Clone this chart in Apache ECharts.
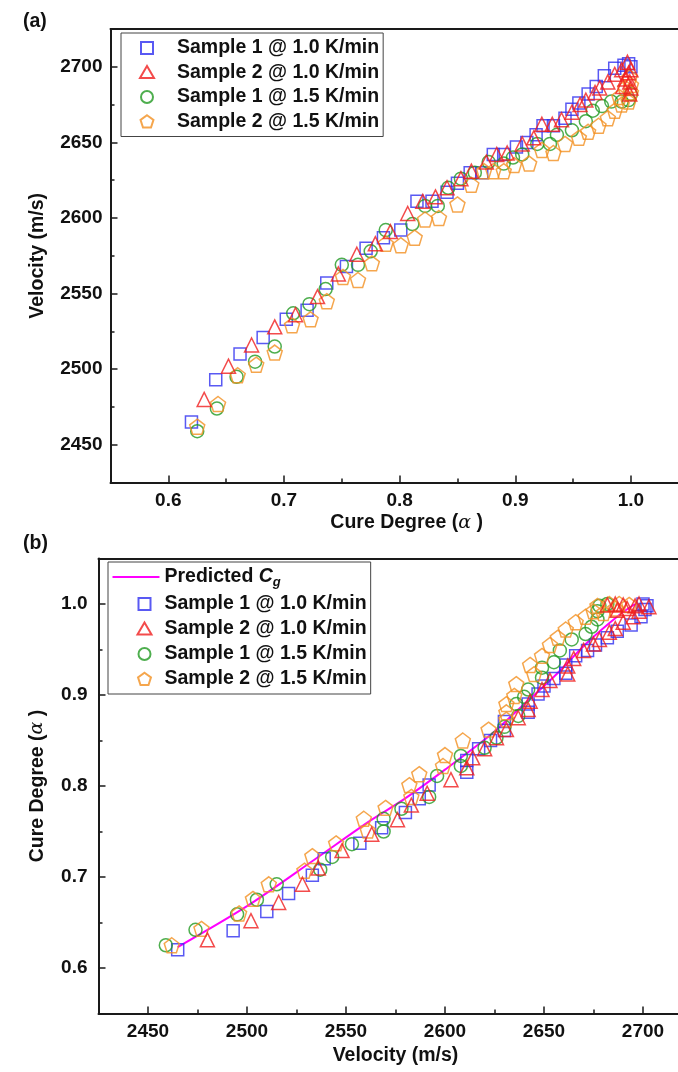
<!DOCTYPE html>
<html>
<head>
<meta charset="UTF-8">
<title>Velocity vs cure degree</title>
<script src="https://cdn.jsdelivr.net/npm/echarts@6/dist/echarts.min.js"></script>
<style>
  html, body { margin: 0; padding: 0; background: #fff; }
  #chart { width: 678px; height: 1072px; }
</style>
</head>
<body>
<div id="chart"></div>
<script>
// series names, legend order
var sampleNames = ['Sample 1 @ 1.0 K/min', 'Sample 2 @ 1.0 K/min', 'Sample 1 @ 1.5 K/min', 'Sample 2 @ 1.5 K/min'];
var lineName = 'Predicted Cg';

// [cure degree, velocity (m/s)]
var s1Rate10 = [[0.620,2465],[0.641,2493],[0.662,2510],[0.682,2521],[0.702,2533],[0.720,2539],[0.737,2557],[0.754,2568],
  [0.771,2580],[0.786,2587],[0.801,2592],[0.815,2611],[0.828,2611],[0.841,2617],[0.850,2623],[0.861,2630],[0.871,2630],
  [0.881,2642],[0.890,2642],[0.901,2647],[0.910,2650],[0.918,2655],[0.924,2661],[0.933,2661],[0.943,2666],[0.949,2672],
  [0.955,2676],[0.963,2682],[0.970,2687],[0.977,2694],[0.986,2699],[0.994,2701],[0.998,2702],[1.000,2700]];
var s2Rate10 = [[0.631,2480],[0.652,2502],[0.672,2516],[0.692,2528],[0.710,2536],[0.729,2548],[0.747,2563],[0.763,2576],
  [0.779,2583],[0.792,2591],[0.807,2603],[0.820,2611],[0.831,2614],[0.841,2620],[0.853,2626],[0.862,2631],[0.875,2637],
  [0.884,2642],[0.893,2643],[0.906,2649],[0.916,2653],[0.923,2662],[0.932,2662],[0.940,2665],[0.949,2670],[0.956,2675],
  [0.961,2678],[0.969,2683],[0.973,2686],[0.980,2690],[0.986,2695],[0.992,2698],[0.997,2703],[0.998,2696],[0.999,2690],
  [1.000,2686],[0.995,2692],[1.000,2698],[0.993,2687],[0.999,2682]];
var s1Rate15 = [[0.625,2459],[0.642,2474],[0.659,2495],[0.675,2505],[0.692,2515],[0.708,2537],[0.722,2543],[0.736,2553],
  [0.750,2569],[0.764,2569],[0.775,2578],[0.788,2592],[0.811,2596],[0.822,2608],[0.833,2608],[0.842,2620],[0.853,2626],
  [0.865,2630],[0.877,2637],[0.890,2636],[0.898,2640],[0.906,2642],[0.919,2649],[0.930,2649],[0.936,2655],[0.949,2658],
  [0.961,2664],[0.967,2671],[0.975,2674],[0.983,2677],[0.992,2677],[0.998,2678],[1.000,2682]];
var s2Rate15 = [[0.625,2462],[0.643,2477],[0.660,2496],[0.676,2503],[0.692,2511],[0.707,2529],[0.723,2533],[0.737,2545],
  [0.751,2561],[0.764,2559],[0.776,2570],[0.788,2583],[0.801,2582],[0.813,2587],[0.822,2599],[0.834,2600],[0.850,2609],
  [0.862,2622],[0.873,2631],[0.881,2631],[0.890,2631],[0.899,2635],[0.912,2636],[0.923,2645],[0.933,2643],[0.943,2649],
  [0.955,2653],[0.963,2657],[0.972,2661],[0.980,2666],[0.986,2671],[0.992,2675],[0.998,2677],[1.000,2683],[1.000,2688],
  [0.999,2693],[0.995,2686],[0.990,2680]];

// predicted curve, [velocity, cure degree]
var predicted = [[2465,0.623],[2500,0.668],[2534,0.719],[2563,0.763],[2579,0.785],[2600,0.818],[2624,0.858],
  [2638,0.886],[2655,0.920],[2672,0.958],[2688,0.988],[2696,1.000]];

var velocityTicks = [2450, 2500, 2550, 2600, 2650, 2700];
var cureTicks = [0.6, 0.7, 0.8, 0.9, 1.0];
var velocityRange = [2425, 2725];
var cureRange = [0.55, 1.05];

var colors = ['#2f2ff0', '#f01e1e', '#229a22', '#f39020'];
var shapes = ['rect', 'triangle', 'circle', 'pentagon'];
var sizes = [12, 14, 13, 15];
var allData = [s1Rate10, s2Rate10, s1Rate15, s2Rate15];

var ink = '#1a1a1a';
var font = 'Liberation Sans';

function velLabel(v) { return velocityTicks.indexOf(v) >= 0 ? String(v) : ''; }
function cureLabel(v) {
  for (var i = 0; i < cureTicks.length; i++) {
    if (Math.abs(cureTicks[i] - v) < 1e-6) return cureTicks[i].toFixed(1);
  }
  return '';
}

// pentagon as a symbol path
var pentagonPath = 'path://M0,-1 L0.951,-0.309 L0.588,0.809 L-0.588,0.809 L-0.951,-0.309 Z';
function seriesSymbol(kind) { return kind === 'pentagon' ? pentagonPath : kind; }

// legend icon: shape drawn inside a w x h box (the two lone moves keep the box size)
function legendIcon(kind, w, h, cx) {
  var cy = h / 2, p = [];
  var s = 'path://M0,0 M' + w + ',' + h + ' ';
  if (kind === 'rect') {
    s += 'M' + (cx - 6) + ',' + (cy - 6) + ' L' + (cx + 6) + ',' + (cy - 6) + ' L' + (cx + 6) + ',' + (cy + 6) +
      ' L' + (cx - 6) + ',' + (cy + 6) + ' Z';
  } else if (kind === 'triangle') {
    s += 'M' + cx + ',' + (cy - 6.5) + ' L' + (cx + 7) + ',' + (cy + 5.5) + ' L' + (cx - 7) + ',' + (cy + 5.5) + ' Z';
  } else if (kind === 'circle') {
    s += 'M' + (cx - 6) + ',' + cy + ' A6,6 0 1,0 ' + (cx + 6) + ',' + cy + ' A6,6 0 1,0 ' + (cx - 6) + ',' + cy + ' Z';
  } else if (kind === 'pentagon') {
    for (var k = 0; k < 5; k++) {
      var a = (-90 + k * 72) * Math.PI / 180;
      p.push((k ? 'L' : 'M') + (cx + 6.8 * Math.cos(a)).toFixed(2) + ',' + (cy + 0.5 + 6.8 * Math.sin(a)).toFixed(2));
    }
    s += p.join(' ') + ' Z';
  } else {
    s += 'M0,' + (cy - 1) + ' L' + w + ',' + (cy - 1) + ' L' + w + ',' + (cy + 1) + ' L0,' + (cy + 1) + ' Z';
  }
  return s;
}

function valueAxis(grid, range, fmt, margin, extra) {
  var ax = {
    type: 'value', gridIndex: grid, min: range[0], max: range[1], splitNumber: 5,
    axisLine: { show: true, onZero: false, lineStyle: { color: ink, width: 2 } },
    axisTick: { show: true, inside: true, length: 7, lineStyle: { color: ink, width: 1.5 } },
    minorTick: { show: true, splitNumber: 2, length: 4, lineStyle: { color: ink, width: 1.5 } },
    splitLine: { show: false },
    axisLabel: { fontFamily: font, fontSize: 19, fontWeight: 'bold', color: '#111', margin: margin, formatter: fmt },
    nameTextStyle: { fontFamily: font, fontSize: 19.5, fontWeight: 'bold', color: '#111' }
  };
  for (var k in extra) ax[k] = extra[k];
  return ax;
}
function frameAxis(grid, range) {
  return {
    type: 'value', gridIndex: grid, position: 'top', min: range[0], max: range[1],
    axisLine: { show: true, onZero: false, lineStyle: { color: ink, width: 2 } },
    axisTick: { show: false }, axisLabel: { show: false }, splitLine: { show: false }
  };
}

var alphaRich = {
  t: { fontFamily: font, fontSize: 19.5, fontWeight: 'bold', color: '#111' },
  g: { fontFamily: 'DejaVu Serif', fontSize: 19, fontStyle: 'italic', color: '#111' }
};

var series = [];
var order = [0, 2, 3, 1];
order.forEach(function (i) {
  series.push({
    name: sampleNames[i], type: 'scatter', xAxisIndex: 0, yAxisIndex: 0,
    symbol: seriesSymbol(shapes[i]), symbolSize: sizes[i],
    itemStyle: { color: 'rgba(0,0,0,0)', borderColor: colors[i], borderWidth: 1.5 },
    data: allData[i]
  });
});
series.push({
  name: lineName, type: 'line', xAxisIndex: 2, yAxisIndex: 1, symbol: 'none', smooth: 0.3,
  lineStyle: { color: '#ff00ff', width: 2 }, itemStyle: { color: '#ff00ff' }, data: predicted, z: 1
});
order.forEach(function (i) {
  series.push({
    name: sampleNames[i], type: 'scatter', xAxisIndex: 2, yAxisIndex: 1,
    symbol: seriesSymbol(shapes[i]), symbolSize: sizes[i],
    itemStyle: { color: 'rgba(0,0,0,0)', borderColor: colors[i], borderWidth: 1.5 },
    data: allData[i].map(function (p) { return [p[1], p[0]]; })
  });
});

var legendText = {
  fontFamily: font, fontSize: 19.5, fontWeight: 'bold', color: '#111', lineHeight: 20,
  rich: {
    t: { fontFamily: font, fontSize: 19.5, fontWeight: 'bold', color: '#111' },
    i: { fontFamily: font, fontSize: 19.5, fontWeight: 'bold', fontStyle: 'italic', color: '#111' },
    s: { fontFamily: font, fontSize: 13, fontWeight: 'bold', fontStyle: 'italic', color: '#111', padding: [11, 0, 0, 0] }
  }
};

var topLegendData = sampleNames.map(function (n, i) {
  return { name: n, icon: legendIcon(shapes[i], 50, 14, 25) };
});
var bottomLegendData = [{ name: lineName, icon: legendIcon('line', 47, 14, 0) }].concat(
  sampleNames.map(function (n, i) { return { name: n, icon: legendIcon(shapes[i], 47, 14, 32) }; })
);

var option = {
  animation: false,
  backgroundColor: '#fff',
  title: [
    { text: '(a)', left: 18, top: 7, textStyle: { fontFamily: font, fontSize: 19.5, fontWeight: 'bold', color: '#111' } },
    { text: '(b)', left: 18, top: 529, textStyle: { fontFamily: font, fontSize: 19.5, fontWeight: 'bold', color: '#111' } }
  ],
  grid: [
    { left: 110.5, top: 29, width: 578.25, height: 453.6, containLabel: false, outerBoundsMode: 'none' },
    { left: 98.5, top: 558.5, width: 594, height: 455, containLabel: false, outerBoundsMode: 'none' }
  ],
  xAxis: [
    valueAxis(0, cureRange, cureLabel, 9, {
      position: 'bottom', name: '{t|Cure Degree (}{g|α}{t| )}', nameLocation: 'middle', nameGap: 30,
      nameTextStyle: { padding: [0, 0, 0, 14], rich: alphaRich }
    }),
    frameAxis(0, cureRange),
    valueAxis(1, velocityRange, velLabel, 9, {
      position: 'bottom', name: 'Velocity (m/s)', nameLocation: 'middle', nameGap: 32
    }),
    frameAxis(1, velocityRange)
  ],
  yAxis: [
    valueAxis(0, velocityRange, velLabel, 8, {
      position: 'left', name: 'Velocity (m/s)', nameLocation: 'middle', nameGap: 63
    }),
    valueAxis(1, cureRange, cureLabel, 11, {
      position: 'left', name: '{t|Cure Degree (}{g|α}{t| )}', nameLocation: 'middle', nameGap: 51,
      nameTextStyle: { rich: alphaRich }
    })
  ],
  legend: [
    {
      data: topLegendData, orient: 'vertical', left: 121, top: 33,
      padding: [5, 4, 5, 0], itemWidth: 50, itemHeight: 14, itemGap: 4.5,
      borderColor: '#444', borderWidth: 1, backgroundColor: '#fff',
      textStyle: legendText, selectedMode: false
    },
    {
      data: bottomLegendData, orient: 'vertical', left: 108, top: 562,
      padding: [5, 4, 5, 3.5], itemWidth: 47, itemHeight: 14, itemGap: 5,
      borderColor: '#444', borderWidth: 1, backgroundColor: '#fff',
      textStyle: legendText, selectedMode: false,
      formatter: function (name) {
        if (name === lineName) return '{t|Predicted }{i|C}{s|g}';
        return name;
      }
    }
  ],
  series: series
};

var chart = echarts.init(document.getElementById('chart'), null, { renderer: 'canvas' });
chart.setOption(option);
</script>
</body>
</html>
